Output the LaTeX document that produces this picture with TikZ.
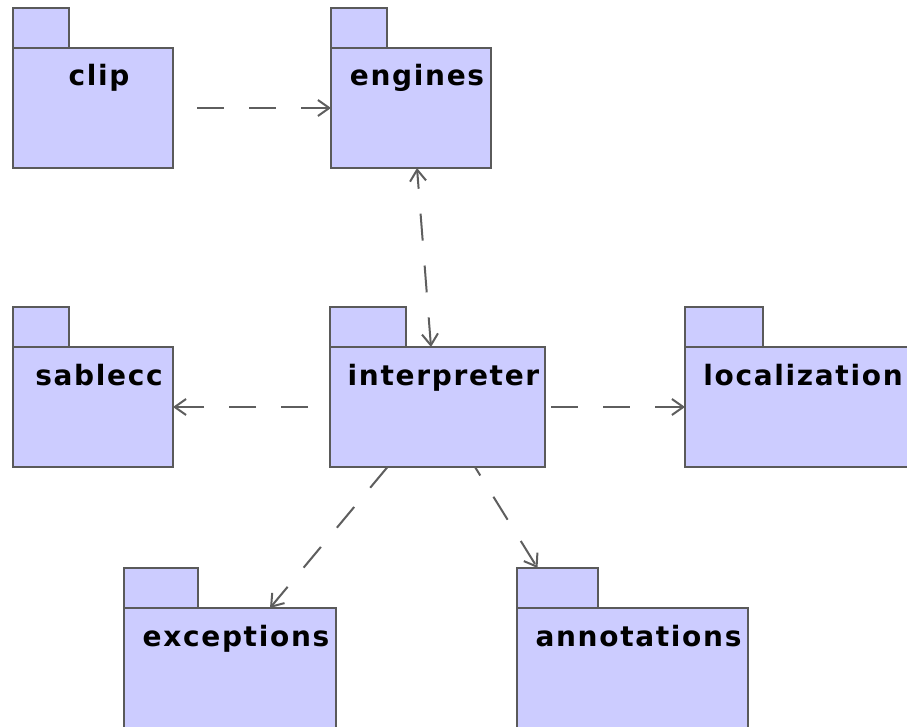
\documentclass[tikz,border=0pt]{standalone}
\usepackage{fontspec}
\newfontfamily\pkgfont[LetterSpace=6.0]{DejaVu Sans}
\usetikzlibrary{arrows.meta}
\definecolor{pkgfill}{HTML}{CCCCFF}
\definecolor{pkgline}{HTML}{5A5A5A}
\definecolor{depline}{HTML}{5E5E5E}
\tikzset{
  pkgbox/.style={draw=pkgline, fill=pkgfill, line width=1.5pt, inner sep=0pt, outer sep=0pt, rectangle},
  pkglabel/.style={inner sep=0pt, font=\pkgfont\bfseries\fontsize{21}{25}\selectfont, text=black},
  dep/.style={draw=depline, line width=1.5pt, dash pattern=on 20.25pt off 18.75pt,
    -{Straight Barb[length=8.5pt, width=12pt]}},
  bidep/.style={dep, {Straight Barb[length=8.5pt, width=12pt]}-{Straight Barb[length=8.5pt, width=12pt]}}
}
% name, x, y (top of tab), body width, tab width, label
\newcommand\pkgdraw[6]{%
  \node[pkgbox, anchor=north west, minimum width=#5*0.75pt, minimum height=30pt] (#1t) at (#2,#3) {};
  \node[pkgbox, anchor=north west, minimum width=#4*0.75pt, minimum height=90pt] (#1) at (#2,#3+40) {};
  \node[pkglabel, anchor=base] (#1l) at ([shift={(6,38)}]#1.north) {#6};
}
\begin{document}
\begin{tikzpicture}[x=0.75pt, y=-0.75pt]
\useasboundingbox (0,0) rectangle (907,727);
\pkgdraw{clip}{13}{8}{160}{56}{clip}
\pkgdraw{eng}{331}{8}{160}{56}{engines}
\pkgdraw{sab}{13}{307}{160}{56}{sablecc}
\pkgdraw{int}{330}{307}{215}{76}{interpreter}
\pkgdraw{loc}{685}{307}{224}{78}{localization}
\pkgdraw{exc}{124}{568}{212}{74}{exceptions}
\pkgdraw{ann}{517}{568}{231}{81}{annotations}

\draw[dep, shorten <=18pt] (clip.east) -- (eng.west);
\draw[bidep] ([shift={(-6.5,0)}]int.north) -- ([shift={(6,0)}]eng.south);
\draw[dep, shorten <=16.5pt] (int.west) -- (sab.east);
\draw[dep, shorten <=4.5pt] (int.east) -- (loc.west);
\draw[dep] ([shift={(-50,0)}]int.south) -- ([shift={(40,0)}]exc.north);
\draw[dep, dash phase=12.75pt] ([shift={(37.5,0)}]int.south) -- ([shift={(-20,0)}]annt.north);
\end{tikzpicture}
\end{document}
